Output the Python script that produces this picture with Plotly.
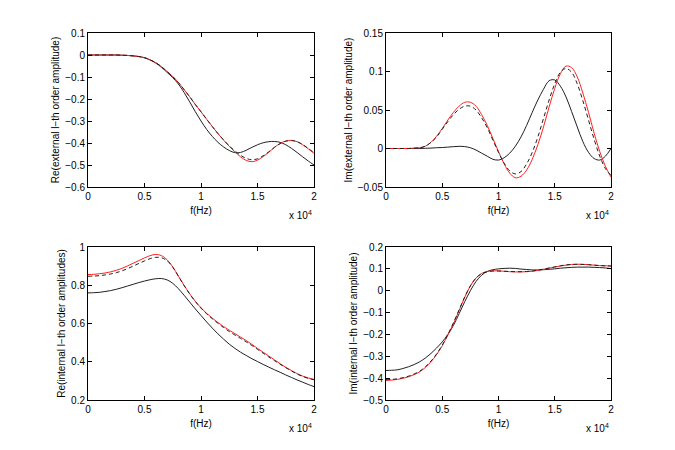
import plotly.graph_objects as go

# frequency grid (Hz)
freq = [0, 500, 1000, 1500, 2000, 2500, 3000, 3500, 4000, 4500,
        5000, 5500, 6000, 6500, 7000, 7500, 8000, 8500, 9000, 9500,
        10000, 10500, 11000, 11500, 12000, 12500, 13000, 13500, 14000, 14500,
        15000, 15500, 16000, 16500, 17000, 17500, 18000, 18500, 19000, 19500, 20000]

# Re(external) - top left
re_ext_red = [0, 0, 0, 0, 0, 0, -0.001, -0.002, -0.004, -0.007,
              -0.012, -0.022, -0.035, -0.053, -0.075, -0.098, -0.125, -0.157, -0.19, -0.225,
              -0.258, -0.292, -0.325, -0.357, -0.387, -0.415, -0.44, -0.463, -0.479, -0.485,
              -0.478, -0.462, -0.442, -0.42, -0.402, -0.391, -0.388, -0.394, -0.408, -0.427, -0.447]
re_ext_dash = [0, 0, 0, 0, 0, 0, -0.001, -0.002, -0.004, -0.007,
               -0.012, -0.022, -0.035, -0.053, -0.075, -0.098, -0.125, -0.157, -0.19, -0.225,
               -0.258, -0.292, -0.325, -0.357, -0.386, -0.413, -0.436, -0.456, -0.47, -0.476,
               -0.472, -0.458, -0.44, -0.42, -0.403, -0.392, -0.389, -0.394, -0.407, -0.425, -0.444]
re_ext_blk = [0, 0, 0, 0, 0, 0, -0.001, -0.002, -0.004, -0.007,
              -0.013, -0.023, -0.037, -0.056, -0.079, -0.103, -0.132, -0.17, -0.213, -0.258,
              -0.3, -0.338, -0.37, -0.397, -0.418, -0.434, -0.444, -0.443, -0.433, -0.42,
              -0.408, -0.399, -0.394, -0.393, -0.397, -0.408, -0.424, -0.443, -0.463, -0.482, -0.5]

# Im(external) - top right
im_ext_red = [0, 0, 0, 0, 0, 0.0005, 0.001, 0.003, 0.008, 0.016,
              0.026, 0.037, 0.047, 0.055, 0.06, 0.06, 0.055, 0.044, 0.03, 0.013,
              -0.004, -0.02, -0.032, -0.038, -0.036, -0.028, -0.014, 0.005, 0.028, 0.054,
              0.078, 0.097, 0.107, 0.105, 0.093, 0.072, 0.047, 0.02, -0.004, -0.023, -0.037]
im_ext_dash = [0, 0, 0, 0, 0, 0.0005, 0.001, 0.003, 0.008, 0.015,
               0.025, 0.035, 0.044, 0.051, 0.055, 0.055, 0.05, 0.04, 0.027, 0.011,
               -0.005, -0.019, -0.029, -0.033, -0.03, -0.02, -0.005, 0.015, 0.039, 0.063,
               0.084, 0.099, 0.104, 0.099, 0.084, 0.062, 0.037, 0.012, -0.01, -0.026, -0.035]
im_ext_blk = [0, 0, 0, 0, 0, 0, 0, 0.0003, 0.0005, 0.001,
              0.0013, 0.0018, 0.0024, 0.0028, 0.0025, 0.001, -0.002, -0.006, -0.01, -0.014,
              -0.015, -0.012, -0.006, 0.003, 0.015, 0.03, 0.047, 0.063, 0.077, 0.088,
              0.089, 0.081, 0.067, 0.048, 0.028, 0.009, -0.005, -0.013, -0.015, -0.01, 0.0]

# Re(internal) - bottom left
re_int_red = [0.856, 0.857, 0.86, 0.864, 0.87, 0.878, 0.888, 0.901, 0.915, 0.929,
              0.943, 0.955, 0.961, 0.955, 0.933, 0.896, 0.848, 0.8, 0.755, 0.716,
              0.682, 0.653, 0.628, 0.605, 0.584, 0.565, 0.547, 0.529, 0.511, 0.491,
              0.47, 0.45, 0.43, 0.41, 0.39, 0.371, 0.354, 0.338, 0.325, 0.315, 0.308]
re_int_dash = [0.847, 0.848, 0.85, 0.854, 0.859, 0.866, 0.875, 0.887, 0.9, 0.914,
               0.927, 0.939, 0.946, 0.944, 0.928, 0.894, 0.847, 0.799, 0.754, 0.715,
               0.68, 0.651, 0.625, 0.601, 0.579, 0.558, 0.54, 0.522, 0.504, 0.485,
               0.465, 0.445, 0.425, 0.406, 0.387, 0.369, 0.352, 0.336, 0.323, 0.313, 0.306]
re_int_blk = [0.76, 0.761, 0.763, 0.767, 0.772, 0.779, 0.787, 0.796, 0.805, 0.814,
              0.822, 0.829, 0.834, 0.835, 0.828, 0.81, 0.782, 0.748, 0.712, 0.676,
              0.642, 0.608, 0.576, 0.546, 0.518, 0.492, 0.47, 0.45, 0.433, 0.416,
              0.401, 0.386, 0.372, 0.358, 0.345, 0.331, 0.318, 0.305, 0.293, 0.281, 0.27]

# Im(internal) - bottom right
im_int_red = [-0.41, -0.409, -0.406, -0.401, -0.394, -0.384, -0.371, -0.351, -0.325, -0.292,
              -0.252, -0.203, -0.15, -0.09, -0.03, 0.022, 0.058, 0.079, 0.088, 0.091,
              0.091, 0.089, 0.087, 0.086, 0.086, 0.087, 0.089, 0.093, 0.098, 0.103,
              0.108, 0.113, 0.117, 0.12, 0.121, 0.121, 0.119, 0.117, 0.115, 0.114, 0.113]
im_int_dash = [-0.407, -0.406, -0.403, -0.398, -0.391, -0.381, -0.368, -0.348, -0.322, -0.289,
               -0.249, -0.2, -0.146, -0.087, -0.028, 0.022, 0.058, 0.078, 0.087, 0.09,
               0.09, 0.089, 0.088, 0.087, 0.087, 0.088, 0.09, 0.094, 0.099, 0.104,
               0.109, 0.114, 0.118, 0.12, 0.121, 0.12, 0.119, 0.117, 0.115, 0.114, 0.113]
im_int_blk = [-0.365, -0.364, -0.362, -0.356, -0.348, -0.338, -0.325, -0.308, -0.287, -0.262,
              -0.234, -0.2, -0.158, -0.105, -0.05, 0.0, 0.042, 0.071, 0.088, 0.096,
              0.1, 0.102, 0.103, 0.102, 0.099, 0.097, 0.095, 0.095, 0.096, 0.098,
              0.1, 0.103, 0.105, 0.107, 0.108, 0.108, 0.108, 0.107, 0.106, 0.104, 0.101]

x_tickvals = [0, 5000, 10000, 15000, 20000]
x_ticktext = ['0', '0.5', '1', '1.5', '2']

panels = [
    # (suffix, red, dash, black, y title, y range, dtick)
    ('', re_ext_red, re_ext_dash, re_ext_blk, 'Re(external l\u2212th order amplitude)', [-0.6, 0.1], 0.1),
    ('2', im_ext_red, im_ext_dash, im_ext_blk, 'Im(external l\u2212th order amplitude)', [-0.05, 0.15], 0.05),
    ('3', re_int_red, re_int_dash, re_int_blk, 'Re(internal l\u2212th order amplitudes)', [0.2, 1.0], 0.2),
    ('4', im_int_red, im_int_dash, im_int_blk, 'Im(internal l\u2212th order amplitude)', [-0.5, 0.2], 0.1),
]

# panel boxes in pixels (page has an 8px body margin, so shift up/left by 8)
W, H, OFF = 675, 450, 8
boxes = [(88, 314, 33, 187), (386, 611, 33, 187), (88, 314, 247, 400), (386, 611, 247, 400)]
x_domains = [[(l - OFF) / W, (r - OFF) / W] for l, r, t, b in boxes]
y_domains = [[1 - (b - OFF) / H, 1 - (t - OFF) / H] for l, r, t, b in boxes]

fig = go.Figure()
axis_font = dict(family='Liberation Sans, Arial, sans-serif', size=10, color='black')

for i, (s, red, dash, blk, ytitle, yr, dt) in enumerate(panels):
    xa, ya = 'x' + s, 'y' + s
    fig.add_trace(go.Scatter(x=freq, y=blk, xaxis=xa, yaxis=ya, mode='lines',
                             line=dict(color='#202020', width=1, shape='spline'), showlegend=False))
    fig.add_trace(go.Scatter(x=freq, y=red, xaxis=xa, yaxis=ya, mode='lines',
                             line=dict(color='#ff2020', width=1, shape='spline'), showlegend=False))
    fig.add_trace(go.Scatter(x=freq, y=dash, xaxis=xa, yaxis=ya, mode='lines',
                             line=dict(color='#202020', width=1, dash='4px,3px', shape='spline'),
                             showlegend=False))
    common = dict(showline=True, linecolor='black', linewidth=1, mirror='ticks', ticks='inside',
                  ticklen=4, tickcolor='black', showgrid=False, zeroline=False,
                  tickfont=axis_font, automargin=False)
    fig.layout['xaxis' + s] = dict(domain=x_domains[i], range=[0, 20000], anchor=ya,
                                   tickvals=x_tickvals, ticktext=x_ticktext,
                                   title=dict(text='f(Hz)', font=dict(size=10, color='black'), standoff=5),
                                   **common)
    fig.layout['yaxis' + s] = dict(domain=y_domains[i], range=yr, dtick=dt, anchor=xa,
                                   title=dict(text=ytitle, font=dict(size=10, color='black'), standoff=3),
                                   **common)
    fig.add_annotation(text='x 10<sup>4</sup>', xref='paper', yref='paper',
                       x=x_domains[i][1], y=y_domains[i][0] - 0.045, xanchor='right', yanchor='top',
                       showarrow=False, font=dict(size=10, color='black'))

fig.update_layout(width=W, height=H, margin=dict(l=0, r=0, t=0, b=0),
                  paper_bgcolor='white', plot_bgcolor='white',
                  font=dict(family='Liberation Sans, Arial, sans-serif', size=10, color='black'))

fig.write_html('out.html')
